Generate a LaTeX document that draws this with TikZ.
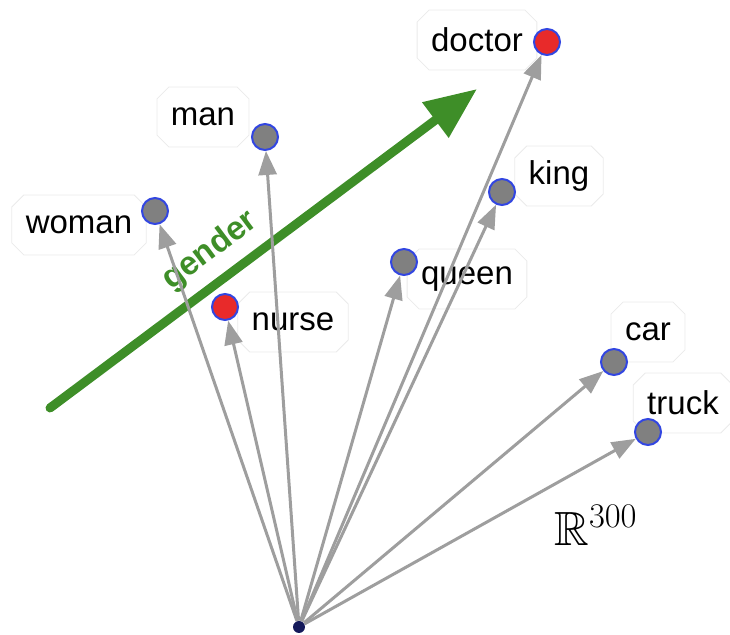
\documentclass[tikz,border=0pt]{standalone}
\usepackage{amssymb}
\usepackage[no-math]{fontspec}
\setmainfont{Liberation Sans}
\usetikzlibrary{arrows.meta,shapes.misc}
\definecolor{gendergreen}{RGB}{62,142,40}
\definecolor{dotblue}{RGB}{50,70,225}
\definecolor{dotred}{RGB}{232,42,42}
\begin{document}
\begin{tikzpicture}[x=.5pt,y=-.5pt,
  lbl/.style={chamfered rectangle,chamfered rectangle xsep=3pt,chamfered rectangle ysep=3pt,draw=black!8,fill=white,inner xsep=4pt,minimum height=30pt,font=\fontsize{16.5}{19}\selectfont},
  dot/.style={circle,draw=dotblue,line width=1pt,fill=black!50,minimum size=13pt,inner sep=0pt},
  vec/.style={draw=black!38,line width=1.5pt,-{Triangle[length=12pt,width=9pt]}}]
\useasboundingbox(0,0)rectangle(730,635);
% word labels
\node[lbl](ldoc)at(477,40){doctor};\node[lbl](lman)at(203,117){man};
\node[lbl](lwom)at(79,225){woman};\node[lbl](lking)at(559,176){king};
\node[lbl](lqueen)at(467,279){queen};\node[lbl](lnurse)at(293,322){nurse};
\node[lbl](lcar)at(648,332){car};\node[lbl](ltruck)at(683,403){truck};
% gender direction
\coordinate(g0)at(50,408);\coordinate(g1)at(477,89);
\draw[gendergreen,line width=4.5pt,line cap=round,-{Triangle[length=26pt,width=21pt]}](g0)--(g1);
\node[gendergreen,rotate=36.8,font=\fontsize{16.5}{19}\selectfont\bfseries](gtxt)at(210,251){gender};
% vectors
\node[circle,fill={rgb,255:red,20;green,25;blue,90},minimum size=6pt,inner sep=0pt](o)at(299,627){};
\node[dot,fill=dotred](doc)at(547,42){};\node[dot](man)at(265,137){};
\node[dot](wom)at(155,211){};\node[dot](king)at(502,192){};
\node[dot](queen)at(404,262){};\node[dot,fill=dotred](nurse)at(225,307){};
\node[dot](car)at(614,362){};\node[dot](truck)at(648,432){};
\foreach\v in{doc,man,wom,king,queen,nurse,car,truck}\draw[vec](o)--(\v);
\node[font=\fontsize{24}{28}\selectfont](rn)at(596,525){$\mathbb{R}^{300}$};
\end{tikzpicture}
\end{document}
